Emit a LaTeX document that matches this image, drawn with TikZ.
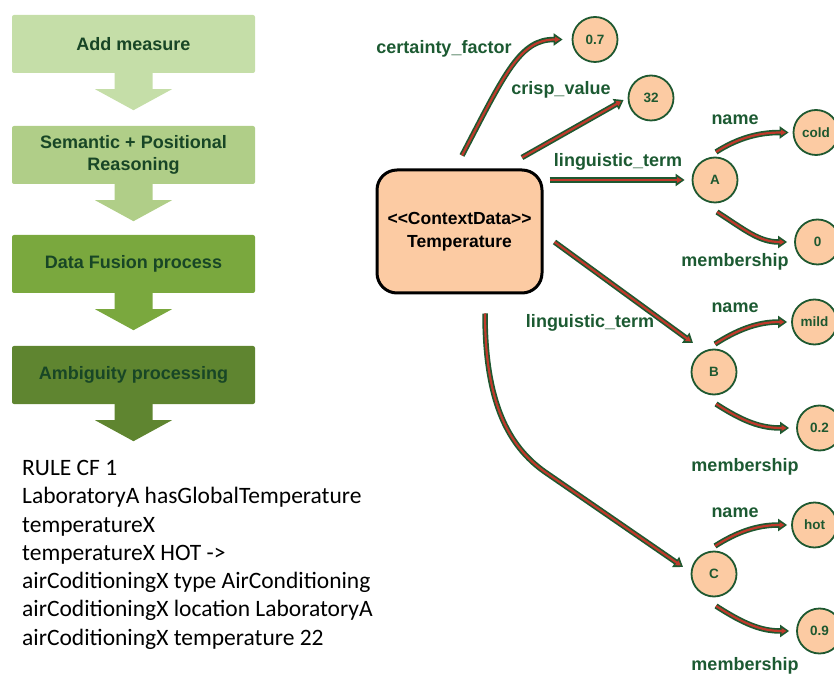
\documentclass[tikz,border=0pt]{standalone}
\usepackage{fontspec}
\setmainfont{Liberation Sans}
\newfontfamily\rulefont{Carlito}
\usetikzlibrary{arrows.meta}
\definecolor{stageA}{RGB}{197,222,168}
\definecolor{stageB}{RGB}{176,206,136}
\definecolor{stageC}{RGB}{122,168,62}
\definecolor{stageD}{RGB}{95,133,48}
\definecolor{stagetext}{RGB}{24,70,38}
\definecolor{relgreen}{RGB}{30,88,48}
\definecolor{relred}{RGB}{192,57,43}
\definecolor{peach}{RGB}{252,203,163}
\definecolor{lblgreen}{RGB}{28,90,50}
\tikzset{
  stage/.style={minimum width=243pt, minimum height=58pt, inner sep=0pt, rounded corners=2pt,
    text=stagetext, align=center, font=\bfseries\fontsize{18}{22}\selectfont},
  ctxbox/.style={draw=black, line width=3pt, fill=peach, rounded corners=20pt, minimum width=165pt,
    minimum height=123pt, align=center, font=\bfseries\fontsize{17.5}{23}\selectfont},
  val/.style={circle, draw=relgreen, line width=1.8pt, fill=peach, minimum size=45pt, inner sep=0pt,
    text=relgreen, font=\bfseries\fontsize{13.5}{16}\selectfont},
  lbl/.style={anchor=base, inner sep=0pt, text=lblgreen, font=\bfseries\fontsize{18}{22}\selectfont},
  rel/.style={draw=relgreen, line width=5.5pt, -{Triangle[length=9pt,width=12pt]},
    postaction={draw=relred, line width=2.2pt, -{Triangle[length=5pt,width=5.5pt]}, shorten >=2.6pt}}
}
\begin{document}
\begin{tikzpicture}[x=1pt,y=1pt]
	\useasboundingbox (0,0) rectangle (834,675);
	\foreach \i/\y/\c/\t in {1/631/stageA/{Add measure}, 2/520/stageB/{Semantic + Positional\\Reasoning},
	  3/411/stageC/{Data Fusion process}, 4/300/stageD/{Ambiguity processing}}{
		\node[stage, fill=\c] (s\i) at (133.5,\y) {\t};
		\fill[\c] ([xshift=-19pt]s\i.south) -- ++(0,-16) -- ++(-19.5,0) -- ++(38.5,-21) -- ++(38.5,21)
		  -- ++(-19.5,0) -- ++(0,16) -- cycle;
	}
	\node[anchor=north west, inner sep=0pt, align=left, font=\rulefont\fontsize{23.5}{28.3}\selectfont] (rule)
	  at (22,215) {RULE CF 1\\LaboratoryA hasGlobalTemperature\\temperatureX\\temperatureX HOT ->\\
	  airCoditioningX type AirConditioning\\airCoditioningX location LaboratoryA\\airCoditioningX temperature 22};
	\node[ctxbox] (ctx) at (459.5,443.5) {<\kern0pt<ContextData>\kern0pt>\\Temperature};
	\foreach \n/\x/\y/\t in {cf/595/635.5/0.7, crisp/651/577/32, A/715/495/A, coldA/816/542.5/cold,
	  memA/817.5/433/0, B/714/303/B, mildB/814.5/353/mild, memB/819.5/247/0.2, C/714/101/C,
	  hotC/814.5/150/hot, memC/819.5/44/0.9}{
		\node[val] (\n) at (\x,\y) {\t};
	}
	\foreach \n/\x/\y/\t in {lcf/444/621/certainty\_factor, lcrisp/561/580/crisp\_value,
	  ltermA/618/508/linguistic\_term, lnameA/735/550/name, lmemA/735/408/membership,
	  ltermB/590/347/linguistic\_term, lnameB/735/362/name, lmemB/745/204/membership,
	  lnameC/735/158/name, lmemC/745/5/membership}{
		\node[lbl] (\n) at (\x,\y) {\t};
	}
	\draw[rel] ([shift={(2.5,13)}]ctx.north) .. controls +(43,82) and +(-43,0) .. ([xshift=-9pt]cf.west);
	\draw[rel] ([shift={(62.5,11)}]ctx.north) -- ([shift={(-4,-2)}]crisp.west);
	\draw[rel] ([shift={(6,51.5)}]ctx.east) -- ([xshift=-7pt]A.west);
	\draw[rel] ([shift={(11,-10.5)}]ctx.east) -- ([shift={(-21,29)}]B.center);
	\coordinate (bendC) at (545,203);
	\draw[rel] ([shift={(25.5,-19)}]ctx.south) .. controls +(0,-88) and +(-37,26) .. (bendC)
	  -- ([shift={(-31,7)}]C.center);
	\foreach \p/\v in {A/coldA, B/mildB, C/hotC}{
		\draw[rel] ([shift={(1,28)}]\p.center) .. controls +(22,14) and +(-30,0) .. ([xshift=-4pt]\v.west);
	}
	\foreach \p/\v in {A/memA, B/memB, C/memC}{
		\draw[rel] ([shift={(2,-32)}]\p.center) .. controls +(28,-18) and +(-28,0) .. ([xshift=-7pt]\v.west);
	}
\end{tikzpicture}
\end{document}
